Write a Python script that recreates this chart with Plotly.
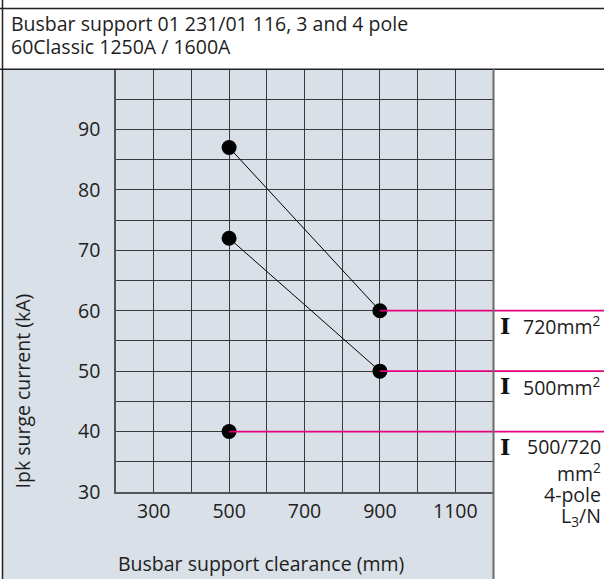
import plotly.graph_objects as go

# ---- data ----
clearance = [500, 900]                 # Busbar support clearance (mm)
surge_720 = [87, 60]                   # Ipk (kA), 720 mm²
surge_500 = [72, 50]                   # Ipk (kA), 500 mm²
clearance_4pole = [500]
surge_4pole = [40]                     # 500/720 mm² 4-pole L3/N

x_ticks = [300, 500, 700, 900, 1100]
y_ticks = [30, 40, 50, 60, 70, 80, 90]
x_range = [200, 1200]
y_range = [30, 100]
x_grid = list(range(200, 1201, 100))
y_grid = list(range(30, 101, 5))

title_lines = ["Busbar support 01 231/01 116, 3 and 4 pole",
               "60Classic 1250A / 1600A"]

# ---- layout geometry ----
W, H = 604, 579
ML, MR, MT, MB = 116, 111, 69, 87
PW, PH = W - ML - MR, H - MT - MB

def px(x):
    return (x - ML) / PW

def py(y):
    return (H - MB - y) / PH

def xdata_to_paper(v):
    return (v - x_range[0]) / (x_range[1] - x_range[0])

FONT = "Open Sans, Noto Sans, sans-serif"
FS = 19.5
TXT = "#1e1e1e"
GRID = "#3a3a3a"
PINK = "#e5007d"
PANEL = "#d9e0e7"
PLOTBG = "#e6dfe4"

fig = go.Figure()

for xs, ys in [(clearance, surge_720), (clearance, surge_500), (clearance_4pole, surge_4pole)]:
    fig.add_trace(go.Scatter(x=xs, y=ys, mode="lines+markers",
                             line=dict(color="black", width=1),
                             marker=dict(color="black", size=15),
                             showlegend=False, cliponaxis=False))

shapes = []
# blue-grey panel
shapes.append(dict(type="rect", xref="paper", yref="paper",
                   x0=px(2.5), x1=px(493.5), y0=py(H + 2), y1=py(69),
                   fillcolor=PANEL, line=dict(width=0), layer="below"))
# pink reference lines
for xs, ys in [(clearance, surge_720), (clearance, surge_500), (clearance_4pole, surge_4pole)]:
    shapes.append(dict(type="line", xref="paper", yref="y",
                       x0=xdata_to_paper(xs[-1]), x1=px(W + 2), y0=ys[-1], y1=ys[-1],
                       line=dict(color=PINK, width=1.8), layer="above"))
# frame lines
shapes.append(dict(type="line", xref="paper", yref="paper", x0=px(0), x1=px(W + 2),
                   y0=py(8.5), y1=py(8.5), line=dict(color="#222", width=1.5)))
shapes.append(dict(type="line", xref="paper", yref="paper", x0=px(0), x1=px(W + 2),
                   y0=py(69.3), y1=py(69.3), line=dict(color="#222", width=1.5)))
shapes.append(dict(type="line", xref="paper", yref="paper", x0=px(2.5), x1=px(2.5),
                   y0=py(0), y1=py(H + 2), line=dict(color="#222", width=1.5)))
shapes.append(dict(type="line", xref="paper", yref="paper", x0=px(493.5), x1=px(493.5),
                   y0=py(69), y1=py(H + 2), line=dict(color="#6a6a6a", width=2)))

annotations = []
annotations.append(dict(text=title_lines[0], xref="paper", yref="paper", x=px(9), y=py(24),
                        xanchor="left", yanchor="middle", showarrow=False,
                        font=dict(family=FONT, size=FS, color=TXT)))
annotations.append(dict(text=title_lines[1], xref="paper", yref="paper", x=px(9), y=py(47),
                        xanchor="left", yanchor="middle", showarrow=False,
                        font=dict(family=FONT, size=FS, color=TXT)))
# axis titles
annotations.append(dict(text="Ipk surge current (kA)", xref="paper", yref="paper",
                        x=px(22), y=py(491), xanchor="center", yanchor="bottom",
                        textangle=-90, showarrow=False,
                        font=dict(family=FONT, size=FS, color=TXT)))
annotations.append(dict(text="Busbar support clearance (mm)", xref="paper", yref="paper",
                        x=0, y=py(563), xanchor="left", yanchor="middle", showarrow=False,
                        font=dict(family=FONT, size=FS, color=TXT)))
# right-side labels
IBEAM = dict(family="DejaVu Serif, Liberation Serif, serif", size=22, color="#111")
SHIFT = -15
for val, label in [(surge_720[-1], "720mm<sup>2</sup>"), (surge_500[-1], "500mm<sup>2</sup>"),
                   (surge_4pole[-1], "500/720")]:
    annotations.append(dict(text="<b>I</b>", xref="paper", yref="y", x=px(505), y=val,
                            yshift=SHIFT, xanchor="center", yanchor="middle",
                            showarrow=False, font=IBEAM))
    annotations.append(dict(text=label, xref="paper", yref="y", x=px(603), y=val,
                            yshift=SHIFT, xanchor="right", yanchor="middle",
                            showarrow=False, font=dict(family=FONT, size=FS, color=TXT)))
for i, label in enumerate(["mm<sup>2</sup>", "4-pole", "L<sub>3</sub>/N"]):
    annotations.append(dict(text=label, xref="paper", yref="y", x=px(603), y=surge_4pole[-1],
                            yshift=SHIFT - 26 - 22 * i, xanchor="right", yanchor="middle",
                            showarrow=False, font=dict(family=FONT, size=FS, color=TXT)))

fig.update_layout(
    width=W, height=H,
    margin=dict(l=ML, r=MR, t=MT, b=MB, pad=0),
    paper_bgcolor="white", plot_bgcolor=PLOTBG,
    font=dict(family=FONT, size=FS, color=TXT),
    shapes=shapes, annotations=annotations,
    xaxis=dict(range=x_range, tickvals=x_ticks, showgrid=True, gridcolor=GRID, gridwidth=1,
               minor=dict(tickvals=x_grid, showgrid=True, gridcolor=GRID, gridwidth=1),
               zeroline=False, showline=True, linecolor="#555", linewidth=1.5,
               ticks="", ticklabelstandoff=1, tickfont=dict(size=FS, color=TXT), fixedrange=True),
    yaxis=dict(range=y_range, tickvals=y_ticks, showgrid=True, gridcolor=GRID, gridwidth=1,
               minor=dict(tickvals=y_grid, showgrid=True, gridcolor=GRID, gridwidth=1),
               zeroline=False, showline=True, linecolor="#555", linewidth=1.5,
               ticks="", ticklabelstandoff=10, tickfont=dict(size=FS, color=TXT), fixedrange=True),
)

fig.write_html("out.html", post_script="document.body.style.margin='0px';",
               config={"displayModeBar": False})
